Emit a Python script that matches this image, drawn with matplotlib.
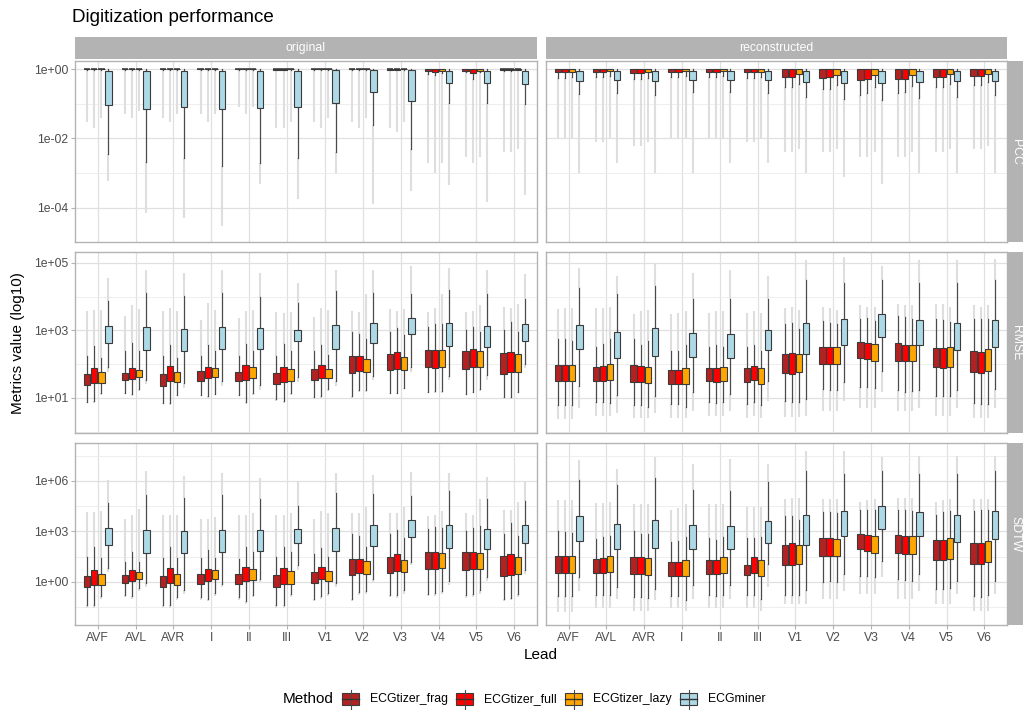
import matplotlib
matplotlib.use('Agg')
import matplotlib.pyplot as plt
from matplotlib.patches import Rectangle
from matplotlib.ticker import FixedLocator, NullFormatter

plt.rcParams['font.family'] = ['Liberation Sans', 'DejaVu Sans']

leads = ['AVF', 'AVL', 'AVR', 'I', 'II', 'III', 'V1', 'V2', 'V3', 'V4', 'V5', 'V6']
methods = ['ECGtizer_frag', 'ECGtizer_full', 'ECGtizer_lazy', 'ECGminer']
colors = ['#B22222', '#FF0000', '#FFA500', '#ADD8E6']
sources = ['original', 'reconstructed']
metrics = ['PCC', 'RMSE', 'SDTW']

# one tuple per lead: (lowest outlier, lower whisker, q1, median, q3, upper whisker, highest outlier)
pcc_orig_frag = [(0.03, 0.93, 0.97, 0.985, 0.995, 1, 1), (0.05, 0.93, 0.97, 0.985, 0.995, 1, 1),
                 (0.04, 0.93, 0.97, 0.985, 0.995, 1, 1), (0.05, 0.94, 0.97, 0.985, 0.995, 1, 1),
                 (0.08, 0.93, 0.97, 0.985, 0.995, 1, 1), (0.02, 0.92, 0.965, 0.985, 0.995, 1, 1),
                 (0.03, 0.93, 0.97, 0.985, 0.995, 1, 1), (0.03, 0.93, 0.97, 0.985, 0.995, 1, 1),
                 (0.02, 0.92, 0.965, 0.98, 0.995, 1, 1), (0.002, 0.72, 0.86, 0.94, 0.98, 1, 1),
                 (0.003, 0.8, 0.9, 0.96, 0.99, 1, 1), (0.004, 0.9, 0.95, 0.98, 0.995, 1, 1)]
pcc_orig_full = [(0.02, 0.93, 0.97, 0.985, 0.995, 1, 1), (0.04, 0.93, 0.97, 0.985, 0.995, 1, 1),
                 (0.03, 0.93, 0.97, 0.985, 0.995, 1, 1), (0.03, 0.93, 0.97, 0.985, 0.995, 1, 1),
                 (0.05, 0.93, 0.97, 0.985, 0.995, 1, 1), (0.02, 0.92, 0.965, 0.985, 0.995, 1, 1),
                 (0.02, 0.93, 0.97, 0.985, 0.995, 1, 1), (0.02, 0.93, 0.97, 0.985, 0.995, 1, 1),
                 (0.015, 0.92, 0.965, 0.98, 0.995, 1, 1), (0.001, 0.68, 0.84, 0.93, 0.98, 1, 1),
                 (0.002, 0.5, 0.75, 0.88, 0.97, 1, 1), (0.004, 0.9, 0.95, 0.98, 0.995, 1, 1)]
pcc_orig_lazy = [(0.04, 0.94, 0.97, 0.985, 0.995, 1, 1), (0.06, 0.94, 0.97, 0.985, 0.995, 1, 1),
                 (0.05, 0.94, 0.97, 0.985, 0.995, 1, 1), (0.05, 0.94, 0.97, 0.985, 0.995, 1, 1),
                 (0.08, 0.94, 0.97, 0.985, 0.995, 1, 1), (0.03, 0.93, 0.97, 0.985, 0.995, 1, 1),
                 (0.04, 0.94, 0.97, 0.985, 0.995, 1, 1), (0.04, 0.94, 0.97, 0.985, 0.995, 1, 1),
                 (0.03, 0.93, 0.97, 0.98, 0.995, 1, 1), (0.002, 0.75, 0.88, 0.95, 0.99, 1, 1),
                 (0.003, 0.8, 0.9, 0.96, 0.99, 1, 1), (0.005, 0.92, 0.96, 0.98, 0.995, 1, 1)]
pcc_orig_miner = [(6e-4, 0.0035, 0.091, 0.21, 0.88, 1, 1), (7e-5, 0.0021, 0.07, 0.18, 0.87, 1, 1),
                  (5e-5, 0.0028, 0.083, 0.22, 0.88, 1, 1), (3e-5, 0.0016, 0.07, 0.14, 0.85, 1, 1),
                  (5e-4, 0.002, 0.075, 0.18, 0.85, 1, 1), (1.8e-4, 0.0027, 0.083, 0.23, 0.85, 1, 1),
                  (1e-3, 0.0042, 0.107, 0.58, 0.93, 1, 1), (1.3e-4, 0.025, 0.22, 0.64, 0.93, 1, 1),
                  (3e-4, 0.0051, 0.117, 0.51, 0.93, 1, 1), (4.5e-4, 0.107, 0.39, 0.6, 0.9, 1, 1),
                  (1.5e-4, 0.107, 0.39, 0.6, 0.9, 1, 1), (2.3e-4, 0.098, 0.38, 0.64, 0.9, 1, 1)]

pcc_rec_frag = [(0.01, 0.55, 0.8, 0.92, 0.98, 1, 1), (0.008, 0.6, 0.82, 0.93, 0.98, 1, 1),
                (0.006, 0.5, 0.78, 0.9, 0.98, 1, 1), (0.01, 0.6, 0.82, 0.93, 0.98, 1, 1),
                (0.01, 0.6, 0.82, 0.93, 0.98, 1, 1), (0.008, 0.55, 0.8, 0.92, 0.98, 1, 1),
                (0.004, 0.3, 0.59, 0.82, 0.97, 1, 1), (0.004, 0.26, 0.56, 0.8, 0.97, 1, 1),
                (0.003, 0.18, 0.49, 0.76, 0.97, 1, 1), (0.003, 0.2, 0.52, 0.78, 0.97, 1, 1),
                (0.004, 0.3, 0.6, 0.82, 0.97, 1, 1), (0.005, 0.35, 0.63, 0.84, 0.97, 1, 1)]
pcc_rec_full = [(0.01, 0.55, 0.8, 0.92, 0.98, 1, 1), (0.008, 0.6, 0.82, 0.93, 0.98, 1, 1),
                (0.006, 0.5, 0.78, 0.9, 0.98, 1, 1), (0.01, 0.6, 0.82, 0.93, 0.98, 1, 1),
                (0.01, 0.6, 0.82, 0.93, 0.98, 1, 1), (0.008, 0.55, 0.8, 0.92, 0.98, 1, 1),
                (0.004, 0.3, 0.6, 0.82, 0.97, 1, 1), (0.004, 0.27, 0.57, 0.8, 0.97, 1, 1),
                (0.003, 0.2, 0.5, 0.77, 0.97, 1, 1), (0.003, 0.22, 0.53, 0.78, 0.97, 1, 1),
                (0.004, 0.3, 0.6, 0.82, 0.97, 1, 1), (0.005, 0.35, 0.63, 0.84, 0.97, 1, 1)]
pcc_rec_lazy = [(0.01, 0.6, 0.84, 0.94, 0.98, 1, 1), (0.01, 0.62, 0.85, 0.94, 0.98, 1, 1),
                (0.008, 0.55, 0.82, 0.93, 0.98, 1, 1), (0.01, 0.62, 0.85, 0.94, 0.98, 1, 1),
                (0.01, 0.62, 0.85, 0.94, 0.98, 1, 1), (0.01, 0.6, 0.84, 0.94, 0.98, 1, 1),
                (0.005, 0.38, 0.7, 0.87, 0.97, 1, 1), (0.005, 0.35, 0.68, 0.86, 0.97, 1, 1),
                (0.004, 0.3, 0.66, 0.85, 0.97, 1, 1), (0.004, 0.32, 0.67, 0.86, 0.97, 1, 1),
                (0.005, 0.38, 0.7, 0.87, 0.97, 1, 1), (0.006, 0.42, 0.72, 0.88, 0.97, 1, 1)]
pcc_rec_miner = [(0.001, 0.19, 0.46, 0.74, 0.9, 1, 1), (0.002, 0.2, 0.47, 0.75, 0.9, 1, 1),
                 (0.001, 0.18, 0.45, 0.73, 0.9, 1, 1), (0.001, 0.22, 0.48, 0.76, 0.9, 1, 1),
                 (0.002, 0.22, 0.48, 0.76, 0.9, 1, 1), (0.002, 0.2, 0.47, 0.75, 0.9, 1, 1),
                 (0.001, 0.16, 0.43, 0.66, 0.86, 1, 1), (0.0008, 0.14, 0.4, 0.64, 0.87, 1, 1),
                 (0.0005, 0.13, 0.4, 0.63, 0.87, 1, 1), (0.001, 0.15, 0.42, 0.66, 0.87, 1, 1),
                 (0.001, 0.16, 0.44, 0.67, 0.87, 1, 1), (0.001, 0.18, 0.46, 0.7, 0.88, 1, 1)]

rmse_orig_frag = [(7, 7.5, 24, 34, 52, 173, 3700), (13, 14, 33, 44, 56, 240, 2600), (6.5, 7.2, 22, 32, 50, 170, 3700),
                  (11, 12, 32, 47, 61, 170, 2000), (11, 12, 32, 44, 59, 170, 2300), (8, 9, 26, 35, 55, 170, 3500),
                  (9.5, 10.5, 33, 50, 72, 240, 2500), (10, 11, 56, 81, 170, 910, 3700), (13, 14, 65, 107, 195, 920, 4200),
                  (14, 15, 81, 140, 270, 1300, 3400), (12, 13, 74, 140, 250, 1050, 3400), (9.5, 10.5, 50, 97, 210, 1000, 5000)]
rmse_orig_full = [(7.2, 8, 27, 45, 77, 340, 4000), (11, 12.6, 37, 54, 77, 430, 5600), (6.3, 7, 31, 53, 87, 380, 4500),
                  (10, 11, 38, 56, 81, 380, 6300), (6.8, 7.5, 35, 56, 93, 390, 3700), (7.2, 8, 30, 50, 83, 390, 3300),
                  (10, 11, 39, 60, 93, 370, 4500), (15, 17, 62, 93, 170, 760, 3400), (13, 14, 70, 110, 225, 1200, 3700),
                  (14, 16, 78, 140, 270, 1580, 4500), (13.5, 15, 81, 155, 280, 1300, 3800), (9.5, 10.5, 57, 115, 230, 1800, 4600)]
rmse_orig_lazy = [(12, 13.5, 28, 42, 58, 150, 4000), (16, 18, 42, 54, 66, 250, 4200), (11, 12.5, 30, 44, 60, 150, 3800),
                  (12, 13, 42, 60, 79, 250, 4000), (12.5, 14, 39, 56, 83, 250, 4000), (12.5, 14, 32, 47, 72, 250, 3500),
                  (16, 18, 38, 53, 72, 190, 4000), (15, 17, 60, 85, 145, 540, 11700), (18, 20, 69, 105, 160, 750, 4400),
                  (14, 16, 82, 145, 270, 1500, 11700), (16, 18, 83, 130, 245, 880, 5600), (13.5, 15, 60, 80, 195, 920, 6000)]
rmse_orig_miner = [(60, 81, 435, 830, 1380, 7400, 36000), (25, 34, 260, 580, 1230, 13000, 63000),
                   (20, 28, 245, 550, 1120, 10500, 50000), (22, 31, 275, 630, 1290, 13000, 63000),
                   (17, 23.5, 290, 630, 1170, 10000, 50000), (30, 42, 470, 850, 1020, 6300, 25000),
                   (22, 31, 290, 680, 1400, 15000, 63000), (35, 45, 410, 850, 1700, 13000, 63000),
                   (60, 80, 760, 1340, 2400, 12000, 80000), (35, 45, 350, 730, 1650, 15500, 70000),
                   (35, 47, 330, 730, 1340, 12000, 60000), (75, 100, 490, 910, 1580, 8700, 47000)]

rmse_rec_frag = [(2.3, 6.3, 32, 58, 97, 540, 4200), (3, 7.5, 32, 56, 83, 330, 4500), (2.5, 6, 30, 50, 92, 540, 3000),
                 (2.5, 6.5, 26, 45, 69, 240, 3000), (3, 7.5, 32, 56, 79, 330, 3300), (2.5, 6.5, 30, 49, 77, 330, 3300),
                 (2.8, 8, 56, 105, 205, 1500, 4500), (4, 18, 103, 185, 330, 1900, 5000), (5, 21, 150, 275, 450, 2100, 5600),
                 (4, 17, 125, 245, 430, 2700, 6000), (3, 11.5, 80, 165, 310, 2100, 6000), (2.5, 7, 58, 115, 245, 2100, 5600)]
rmse_rec_full = [(2.3, 6.3, 32, 58, 97, 540, 4500), (3, 7.5, 32, 60, 88, 390, 4500), (2.5, 6, 30, 50, 88, 360, 3700),
                 (2.5, 6.5, 26, 45, 69, 250, 3300), (3, 7, 30, 53, 79, 380, 3700), (3, 7.5, 33, 58, 88, 380, 3700),
                 (2.8, 7.5, 50, 105, 220, 1700, 5000), (4, 17, 103, 180, 330, 1700, 4500), (5, 21, 145, 260, 420, 2300, 5000),
                 (4, 15, 120, 225, 370, 2500, 5600), (3, 11, 78, 160, 300, 2000, 6000), (2.5, 6.5, 55, 110, 230, 2100, 5000)]
rmse_rec_lazy = [(2.3, 6.3, 32, 58, 97, 480, 4500), (3, 7, 35, 63, 100, 540, 5000), (2.5, 5.5, 28, 47, 85, 500, 4000),
                 (2.5, 5.5, 26, 45, 79, 360, 3700), (3, 7.5, 32, 53, 85, 330, 3700), (2.5, 6, 26, 45, 77, 240, 3300),
                 (2.8, 7.5, 59, 110, 205, 1100, 4000), (4, 17, 98, 180, 320, 1500, 4000), (5, 19, 125, 230, 400, 1900, 5000),
                 (4, 16, 120, 225, 370, 2200, 5600), (3, 11.5, 82, 165, 330, 1800, 5000), (2.5, 6.5, 63, 125, 275, 2100, 5600)]
rmse_rec_miner = [(5, 22, 275, 630, 1480, 18000, 70000), (3.5, 12, 155, 340, 890, 12300, 42000),
                  (3.5, 11.5, 178, 460, 1200, 20000, 100000), (4, 15, 165, 360, 810, 8700, 50000),
                  (4, 13, 155, 320, 760, 8300, 60000), (8, 32, 255, 530, 1050, 8700, 40000),
                  (3, 9.5, 205, 540, 1600, 32000, 120000), (8, 30, 360, 850, 2100, 26000, 150000),
                  (15, 62, 630, 1440, 3000, 32000, 80000), (5, 17, 380, 850, 2000, 25000, 120000),
                  (5, 17, 260, 600, 1650, 26000, 120000), (5, 18, 330, 770, 2000, 32000, 130000)]

sdtw_orig_frag = [(0.03, 0.045, 0.47, 0.95, 2.3, 30, 14000), (0.12, 0.17, 0.83, 1.45, 2.75, 15, 5600),
                  (0.03, 0.042, 0.47, 1.05, 2.3, 28, 10000), (0.08, 0.12, 0.8, 1.65, 3, 25, 5600),
                  (0.09, 0.13, 0.8, 1.65, 3, 24, 10000), (0.03, 0.045, 0.51, 1.1, 2.6, 30, 10000),
                  (0.07, 0.1, 0.9, 1.9, 3.8, 45, 5600), (0.07, 0.1, 2.6, 6.6, 23, 660, 13000),
                  (0.12, 0.17, 3.5, 8.3, 31, 700, 12000), (0.14, 0.2, 6, 19, 59, 1450, 8000),
                  (0.11, 0.16, 4.8, 15, 59, 1000, 12000), (0.07, 0.1, 2.2, 7.6, 34, 750, 18000)]
sdtw_orig_full = [(0.03, 0.045, 0.68, 1.9, 5.2, 117, 14000), (0.1, 0.15, 1.2, 2.5, 5.2, 56, 9000),
                  (0.03, 0.045, 0.9, 2.3, 7, 115, 10000), (0.07, 0.1, 1.2, 2.6, 6, 80, 5600),
                  (0.05, 0.07, 1.2, 2.3, 7.5, 120, 10000), (0.03, 0.042, 0.72, 2.2, 6.3, 120, 10000),
                  (0.1, 0.15, 1.4, 2.3, 7.5, 100, 16000), (0.17, 0.25, 3.3, 8.3, 23, 560, 13000),
                  (0.11, 0.16, 4.2, 11, 43, 1260, 13000), (0.15, 0.22, 6, 19, 59, 1800, 9000),
                  (0.13, 0.19, 6, 18, 62, 1600, 9000), (0.08, 0.11, 2.6, 11, 43, 3300, 20000)]
sdtw_orig_lazy = [(0.1, 0.15, 0.7, 1.3, 3, 25, 16000), (0.3, 0.45, 1.4, 2.2, 4, 16, 22000),
                  (0.08, 0.12, 0.7, 1.45, 3, 25, 10000), (0.15, 0.22, 1.5, 2.6, 5.2, 28, 7500),
                  (0.12, 0.17, 1.3, 2.6, 6, 56, 12000), (0.12, 0.18, 0.8, 1.8, 4.6, 56, 12000),
                  (0.15, 0.22, 1.2, 2.2, 4.5, 30, 12000), (0.18, 0.27, 3, 7, 17, 117, 28000),
                  (0.2, 0.31, 4, 8.7, 21, 430, 28000), (0.2, 0.3, 7, 15, 55, 1600, 16000),
                  (0.2, 0.31, 6, 15, 55, 2000, 90000), (0.13, 0.2, 2.9, 6, 30, 500, 60000)]
sdtw_orig_miner = [(4, 7, 160, 550, 1650, 48000, 1.1e6), (0.5, 0.9, 54, 300, 1260, 140000, 4e6),
                   (0.2, 0.34, 49, 250, 1050, 95000, 2e6), (0.5, 0.78, 62, 330, 1300, 150000, 3e6),
                   (1, 1.5, 68, 360, 1260, 89000, 1.5e6), (5, 9.5, 195, 630, 1450, 31000, 1e6),
                   (0.5, 0.9, 70, 400, 1650, 190000, 3e6), (1, 1.5, 140, 600, 2350, 160000, 2.2e6),
                   (10, 16, 480, 1450, 4500, 120000, 3.4e6), (0.7, 1.1, 107, 500, 2350, 240000, 3e6),
                   (1.2, 1.9, 93, 400, 1450, 89000, 1.7e6), (3, 5.2, 210, 730, 2300, 61000, 8.5e5)]

sdtw_rec_frag = [(0.016, 0.14, 3.6, 11, 34, 1000, 70000), (0.03, 0.17, 3.5, 9.5, 23, 360, 50000),
                 (0.02, 0.12, 3, 10, 30, 1000, 40000), (0.03, 0.15, 2.4, 6.6, 15, 250, 20000),
                 (0.03, 0.17, 3, 8, 21, 400, 40000), (0.03, 0.17, 2.75, 5.2, 9.5, 400, 30000),
                 (0.05, 0.17, 10.5, 37, 150, 7800, 90000), (0.1, 0.95, 34, 125, 400, 14000, 90000),
                 (0.2, 2.4, 85, 245, 690, 18000, 60000), (0.1, 1.4, 54, 210, 630, 20000, 100000),
                 (0.05, 0.39, 20, 93, 320, 10000, 60000), (0.02, 0.15, 12, 47, 200, 16000, 80000)]
sdtw_rec_full = [(0.016, 0.14, 3.6, 11, 34, 900, 70000), (0.03, 0.17, 3.5, 9.5, 25, 450, 50000),
                 (0.02, 0.13, 3, 9, 30, 700, 40000), (0.03, 0.15, 2.4, 6.6, 15, 260, 25000),
                 (0.03, 0.15, 3, 9.5, 21, 300, 40000), (0.03, 0.17, 3.6, 13, 30, 400, 30000),
                 (0.05, 0.16, 9.5, 37, 200, 8500, 100000), (0.1, 1.1, 34, 115, 400, 14000, 90000),
                 (0.2, 2.4, 72, 200, 600, 20000, 70000), (0.1, 1.3, 47, 170, 500, 18000, 100000),
                 (0.05, 0.38, 20, 80, 290, 14000, 70000), (0.02, 0.13, 11, 45, 200, 18000, 80000)]
sdtw_rec_lazy = [(0.016, 0.14, 3.6, 11, 34, 800, 70000), (0.03, 0.17, 4, 12.5, 35, 550, 60000),
                 (0.02, 0.11, 2.6, 9, 28, 700, 40000), (0.02, 0.09, 2.2, 7, 21, 450, 40000),
                 (0.03, 0.17, 3.3, 10, 32, 450, 40000), (0.02, 0.1, 2.2, 6.6, 20, 470, 30000),
                 (0.05, 0.17, 11.5, 40, 150, 5000, 100000), (0.1, 0.95, 34, 115, 380, 12000, 90000),
                 (0.2, 2, 54, 185, 520, 18000, 80000), (0.1, 1.2, 44, 170, 500, 16000, 100000),
                 (0.05, 0.45, 23, 93, 400, 17000, 80000), (0.02, 0.17, 16, 52, 260, 20000, 80000)]
sdtw_rec_miner = [(0.3, 1.9, 265, 1380, 7800, 1.2e6, 1.7e7), (0.1, 0.47, 85, 400, 2700, 5.5e5, 5e6),
                  (0.08, 0.39, 107, 730, 5000, 1.5e6, 2.8e7), (0.1, 0.7, 93, 420, 2300, 2.8e5, 1e7),
                  (0.1, 0.7, 85, 360, 2100, 2.5e5, 2e7), (0.5, 12, 210, 1000, 4000, 8.5e5, 1e7),
                  (0.05, 0.31, 150, 1000, 9300, 3.9e6, 6e7), (0.3, 3, 500, 2500, 16000, 2.7e6, 6e7),
                  (2, 17, 1450, 7100, 32000, 3.7e6, 2.5e7), (0.3, 3, 500, 2500, 15000, 2.7e6, 3e7),
                  (0.2, 1.2, 250, 1260, 9800, 2.5e6, 3e7), (0.2, 1.2, 370, 2100, 15500, 3.9e6, 3e7)]

panels = {
    ('PCC', 'original'): [pcc_orig_frag, pcc_orig_full, pcc_orig_lazy, pcc_orig_miner],
    ('PCC', 'reconstructed'): [pcc_rec_frag, pcc_rec_full, pcc_rec_lazy, pcc_rec_miner],
    ('RMSE', 'original'): [rmse_orig_frag, rmse_orig_full, rmse_orig_lazy, rmse_orig_miner],
    ('RMSE', 'reconstructed'): [rmse_rec_frag, rmse_rec_full, rmse_rec_lazy, rmse_rec_miner],
    ('SDTW', 'original'): [sdtw_orig_frag, sdtw_orig_full, sdtw_orig_lazy, sdtw_orig_miner],
    ('SDTW', 'reconstructed'): [sdtw_rec_frag, sdtw_rec_full, sdtw_rec_lazy, sdtw_rec_miner],
}

ylims = {'PCC': (1.05e-5, 1.7), 'RMSE': (0.91, 2.1e5), 'SDTW': (2.75e-3, 1.8e8)}
yticks = {'PCC': [1e-4, 1e-2, 1], 'RMSE': [10, 1e3, 1e5], 'SDTW': [1, 1e3, 1e6]}
yticklabels = {'PCC': ['1e-04', '1e-02', '1e+00'], 'RMSE': ['1e+01', '1e+03', '1e+05'],
               'SDTW': ['1e+00', '1e+03', '1e+06']}
yminor = {'PCC': [1e-5, 1e-3, 1e-1], 'RMSE': [1, 100, 1e4],
          'SDTW': [10 ** -1.5, 10 ** 1.5, 10 ** 4.5, 10 ** 7.5]}

W, H = 1023, 711
fig = plt.figure(figsize=(W / 100, H / 100), dpi=100)


def rect(x0, y0, x1, y1):
    return [x0 / W, 1 - y1 / H, (x1 - x0) / W, (y1 - y0) / H]


col_x = [(75, 537), (546, 1007)]
row_y = [(61, 242), (252, 433), (443, 625)]
grey70 = '#b3b3b3'
dodge = 0.75 / 4

for r, metric in enumerate(metrics):
    for c, source in enumerate(sources):
        x0, x1 = col_x[c]
        y0, y1 = row_y[r]
        ax = fig.add_axes(rect(x0, y0, x1, y1))
        ax.set_yscale('log')
        ax.set_axisbelow(True)
        for j, data in enumerate(panels[(metric, source)]):
            pos = [i + (j - 1.5) * dodge for i in range(len(leads))]
            # dense outlier columns
            ax.vlines(pos, [d[0] for d in data], [d[1] for d in data], color='#dedede', lw=1.5, zorder=1)
            ax.vlines(pos, [d[5] for d in data], [d[6] for d in data], color='#dedede', lw=1.5, zorder=1)
            stats = [dict(whislo=d[1], q1=d[2], med=d[3], q3=d[4], whishi=d[5], fliers=[]) for d in data]
            bp = ax.bxp(stats, positions=pos, widths=dodge * 0.92, patch_artist=True,
                        showfliers=False, showcaps=False, manage_ticks=False,
                        boxprops=dict(facecolor=colors[j], edgecolor='#3a3a3a', linewidth=0.8),
                        medianprops=dict(color='#333333', linewidth=1.1),
                        whiskerprops=dict(color='#4a4a4a', linewidth=0.9))
            for b in bp['boxes']:
                b.set_zorder(3)
        ax.set_xlim(-0.6, len(leads) - 0.4)
        ax.set_ylim(*ylims[metric])
        ax.set_xticks(range(len(leads)))
        ax.set_xticklabels(leads)
        ax.set_yticks(yticks[metric])
        ax.set_yticklabels(yticklabels[metric])
        ax.yaxis.set_minor_locator(FixedLocator(yminor[metric]))
        ax.yaxis.set_minor_formatter(NullFormatter())
        ax.grid(True, which='major', color='#e0e0e0', lw=0.9)
        ax.grid(True, which='minor', axis='y', color='#ebebeb', lw=0.6)
        ax.tick_params(which='minor', length=0)
        ax.tick_params(which='major', length=3, color=grey70, labelcolor='#4d4d4d', labelsize=8.8, pad=2,
                       left=(c == 0), labelleft=(c == 0), bottom=(r == 2), labelbottom=(r == 2))
        for s in ax.spines.values():
            s.set_color(grey70)
            s.set_linewidth(1.0)

# strips
for c, source in enumerate(sources):
    x0, x1 = col_x[c]
    fig.patches.append(Rectangle((x0 / W, 1 - 59 / H), (x1 - x0) / W, 22 / H, transform=fig.transFigure,
                                 facecolor=grey70, edgecolor='none'))
    fig.text((x0 + x1) / 2 / W, 1 - 48 / H, source, color='white', fontsize=8.8, ha='center', va='center')
for r, metric in enumerate(metrics):
    y0, y1 = row_y[r]
    fig.patches.append(Rectangle((1008 / W, 1 - y1 / H), 24 / W, (y1 - y0) / H, transform=fig.transFigure,
                                 facecolor=grey70, edgecolor='none'))
    fig.text(1015.5 / W, 1 - (y0 + y1) / 2 / H, metric, color='white', fontsize=8.8, ha='center', va='center',
             rotation=-90)

fig.text(72 / W, 1 - 18 / H, 'Digitization performance', fontsize=13.5, ha='left', va='center')
fig.text(18 / W, 1 - 343 / H, 'Metrics value (log10)', fontsize=11, rotation=90, ha='center', va='center')
fig.text(541 / W, 1 - 655 / H, 'Lead', fontsize=11, ha='center', va='center')

# legend
fig.text(283 / W, 1 - 699 / H, 'Method', fontsize=11, ha='left', va='center')
key_x = [342, 456, 565, 680]
for kx, m, col in zip(key_x, methods, colors):
    cx = kx + 8.5
    fig.add_artist(plt.Line2D([cx / W, cx / W], [1 - 690 / H, 1 - 709 / H], color='#4a4a4a', lw=0.8))
    fig.patches.append(Rectangle((kx / W, 1 - 705 / H), 17 / W, 12 / H, transform=fig.transFigure,
                                 facecolor=col, edgecolor='#3a3a3a', lw=0.8))
    fig.add_artist(plt.Line2D([kx / W, (kx + 17) / W], [1 - 699 / H, 1 - 699 / H], color='#333333', lw=1.0))
    fig.text((kx + 28) / W, 1 - 699 / H, m, fontsize=8.8, ha='left', va='center')

fig.savefig('out.png', dpi=100)
